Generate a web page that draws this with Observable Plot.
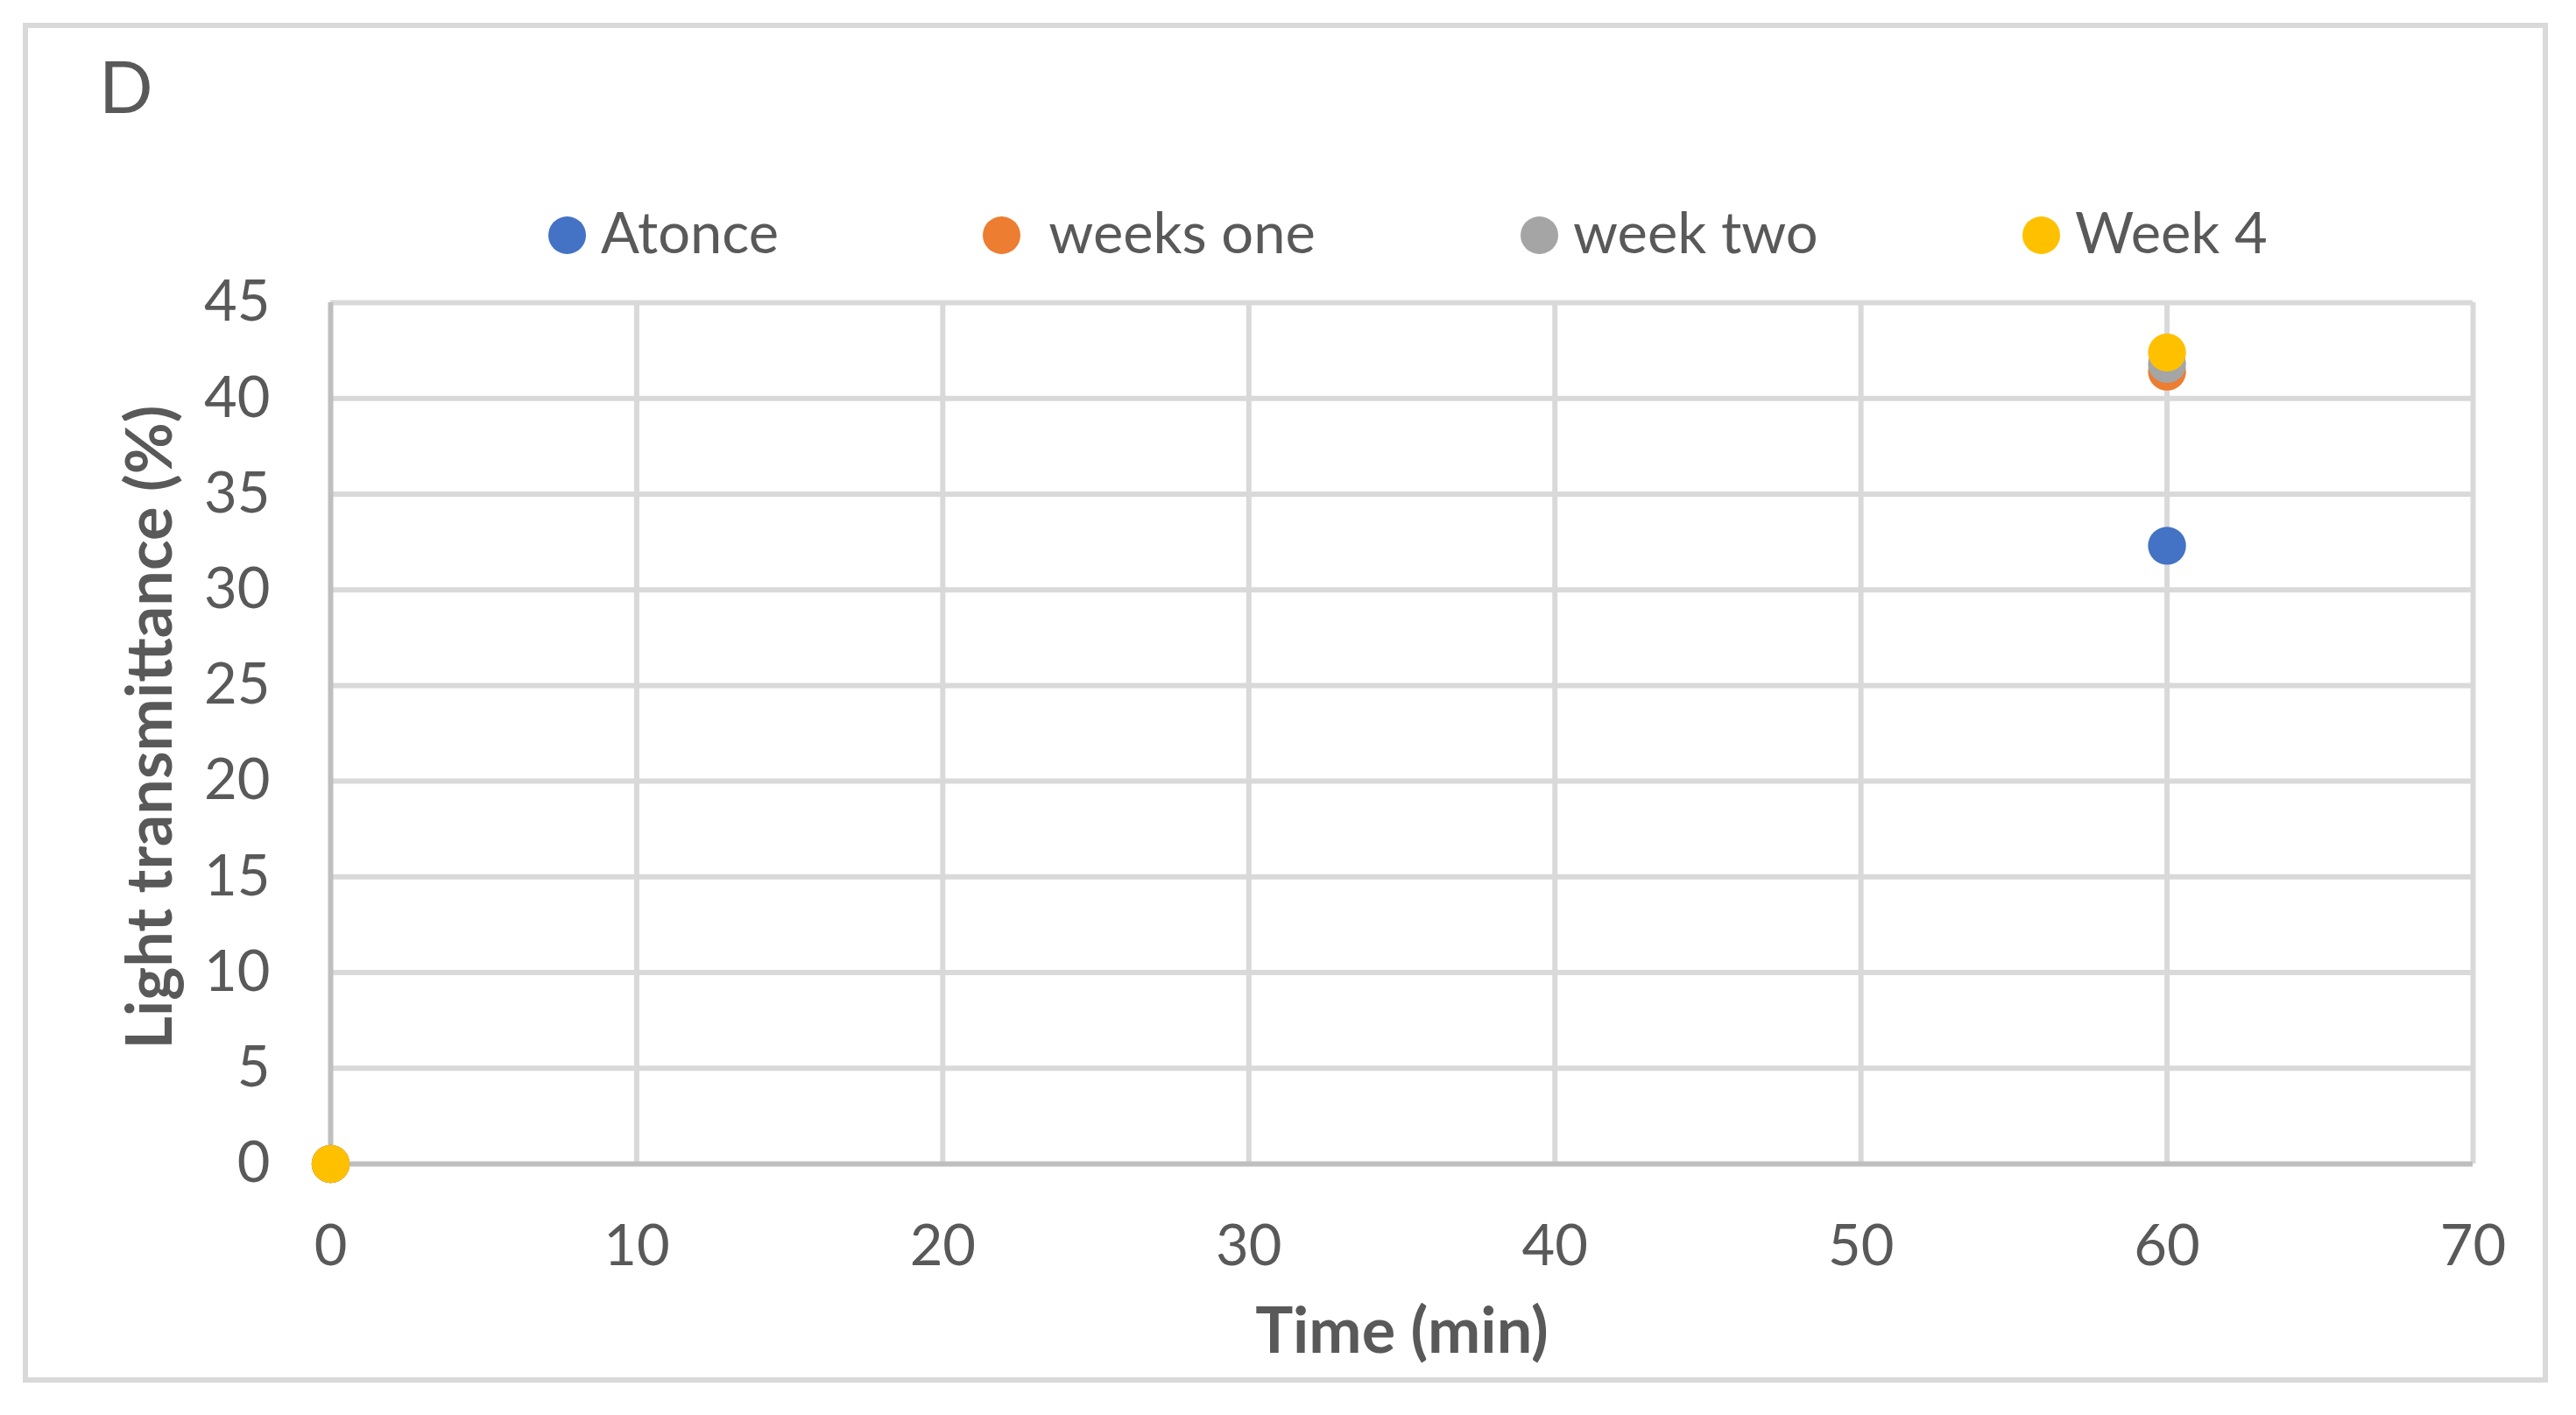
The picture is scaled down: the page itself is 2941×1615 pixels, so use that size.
<!DOCTYPE html>
<html>
<head>
<meta charset="utf-8">
<script src="https://cdn.jsdelivr.net/npm/d3@7"></script>
<script src="https://cdn.jsdelivr.net/npm/@observablehq/plot@0.6"></script>
<style>
  html, body { margin: 0; padding: 0; background: #fff; }
  #chart { position: relative; width: 2941px; height: 1615px; font-family: Lato, "Open Sans", sans-serif; color: #595959; overflow: hidden; }
  #chart svg { position: absolute; left: 0; top: 0; }
  #frame { position: absolute; left: 26px; top: 26px; width: 2871px; height: 1540px; border: 6px solid #d9d9d9; pointer-events: none; }
  #panel { position: absolute; left: 113px; top: 57px; font-size: 81px; line-height: 1; }
  .item { position: absolute; top: 232px; height: 65px; font-size: 65px; line-height: 1; white-space: pre; display: flex; }
  .item .sw { width: 43px; height: 43px; border-radius: 50%; margin-top: 14.5px; margin-right: 17px; flex: none; }
</style>
</head>
<body>
<div id="chart"></div>
<script>
// ---- data ----
const time = [0, 60];
const atonce = [0, 32.3];
const weeksOne = [0, 41.4];
const weekTwo = [0, 41.8];
const week4 = [0, 42.4];
const seriesNames = ["Atonce", " weeks one", "week two", "Week 4"];
const seriesValues = [atonce, weeksOne, weekTwo, week4];
const seriesColors = ["#4472c4", "#ed7d31", "#a5a5a5", "#ffc000"];
const xTicks = [0, 10, 20, 30, 40, 50, 60, 70];
const yTicks = [0, 5, 10, 15, 20, 25, 30, 35, 40, 45];
const panelLabel = "D";
const xLabel = "Time (min)";
const yLabel = "Light transmittance (%)";

const rows = [];
seriesNames.forEach((s, k) => {
  time.forEach((t, i) => rows.push({time: t, value: seriesValues[k][i], series: s}));
});

const W = 2941, H = 1615;
const chart = Plot.plot({
  width: W,
  height: H,
  marginLeft: 377,
  marginRight: 118,
  marginTop: 345,
  marginBottom: 287,
  style: {background: "transparent", color: "#595959", fontFamily: "Lato, 'Open Sans', sans-serif"},
  x: {domain: [0, 70], ticks: xTicks},
  y: {domain: [0, 45], ticks: yTicks},
  color: {domain: seriesNames, range: seriesColors},
  marks: [
    Plot.ruleY(yTicks.filter(d => d > 0), {y: d => d, stroke: "#d9d9d9", strokeWidth: 6}),
    Plot.ruleX(xTicks.filter(d => d > 0), {x: d => d, stroke: "#d9d9d9", strokeWidth: 6}),
    Plot.ruleY([0], {y: d => d, stroke: "#bfbfbf", strokeWidth: 6}),
    Plot.ruleX([0], {x: d => d, stroke: "#bfbfbf", strokeWidth: 6}),
    Plot.axisX({ticks: xTicks, tickSize: 0, tickPadding: 69, fontSize: 65, label: null}),
    Plot.axisY({ticks: yTicks, tickSize: 0, tickPadding: 69, fontSize: 65, label: null}),
    Plot.dot(rows, {x: "time", y: "value", fill: "series", r: 21.7}),
    Plot.text([xLabel], {frameAnchor: "bottom", textAnchor: "middle", lineAnchor: "bottom", dy: 215, fontSize: 72, fontWeight: "bold", fill: "#595959"}),
    Plot.text([yLabel], {frameAnchor: "left", textAnchor: "middle", lineAnchor: "middle", rotate: -90, dx: -205, dy: -7, fontSize: 72, fontWeight: "bold", fill: "#595959"})
  ]
});

const root = document.getElementById("chart");
root.appendChild(chart);

const frame = document.createElement("div");
frame.id = "frame";
root.appendChild(frame);

const panel = document.createElement("div");
panel.id = "panel";
panel.textContent = panelLabel;
root.appendChild(panel);

const legendLefts = [626, 1122, 1736, 2309];
seriesNames.forEach((s, k) => {
  const item = document.createElement("div");
  item.className = "item";
  item.style.left = legendLefts[k] + "px";
  const sw = document.createElement("span");
  sw.className = "sw";
  sw.style.background = seriesColors[k];
  const tx = document.createElement("span");
  tx.textContent = s;
  item.appendChild(sw);
  item.appendChild(tx);
  root.appendChild(item);
});
</script>
</body>
</html>
